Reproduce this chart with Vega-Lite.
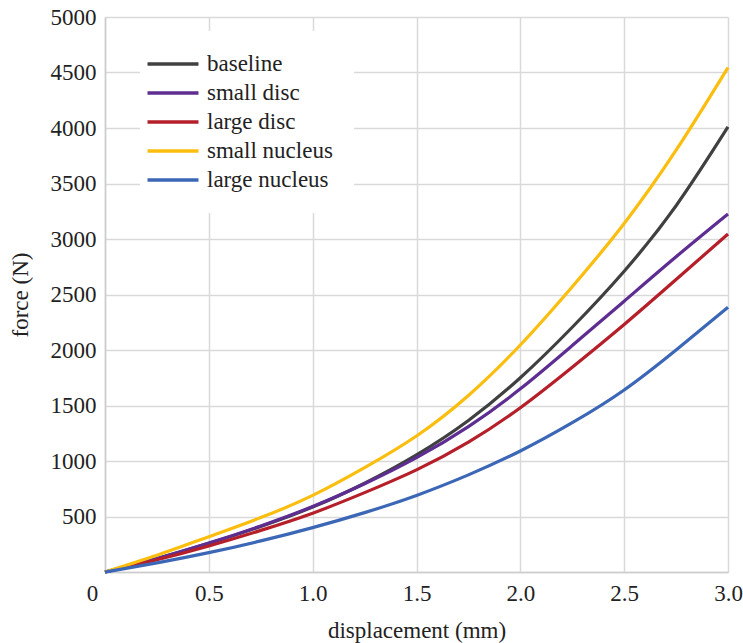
{
  "$schema": "https://vega.github.io/schema/vega-lite/v6.json",
  "width": 623,
  "height": 555,
  "padding": {"left": 105, "top": 17, "right": 15, "bottom": 71},
  "autosize": {"type": "none"},
  "background": "white",
  "config": {
    "font": "Liberation Serif, Times New Roman, serif",
    "view": {"stroke": null},
    "axis": {
      "labelFont": "Liberation Serif, Times New Roman, serif",
      "titleFont": "Liberation Serif, Times New Roman, serif",
      "labelFontSize": 23,
      "titleFontSize": 23,
      "labelColor": "#222222",
      "titleColor": "#222222",
      "titleFontWeight": "normal",
      "gridColor": "#d9d9d9",
      "gridWidth": 1.5,
      "domainColor": "#cccccc",
      "domainWidth": 1.5,
      "ticks": false
    }
  },
  "data": {
    "values": [
      {"d": 0, "f": 0, "s": "baseline"},
      {"d": 0.25, "f": 120, "s": "baseline"},
      {"d": 0.5, "f": 258, "s": "baseline"},
      {"d": 0.75, "f": 410, "s": "baseline"},
      {"d": 1.0, "f": 585, "s": "baseline"},
      {"d": 1.25, "f": 800, "s": "baseline"},
      {"d": 1.5, "f": 1055, "s": "baseline"},
      {"d": 1.75, "f": 1365, "s": "baseline"},
      {"d": 2.0, "f": 1750, "s": "baseline"},
      {"d": 2.25, "f": 2205, "s": "baseline"},
      {"d": 2.5, "f": 2710, "s": "baseline"},
      {"d": 2.75, "f": 3300, "s": "baseline"},
      {"d": 3.0, "f": 4010, "s": "baseline"},
      {"d": 0, "f": 0, "s": "small disc"},
      {"d": 0.25, "f": 122, "s": "small disc"},
      {"d": 0.5, "f": 260, "s": "small disc"},
      {"d": 0.75, "f": 415, "s": "small disc"},
      {"d": 1.0, "f": 590, "s": "small disc"},
      {"d": 1.25, "f": 795, "s": "small disc"},
      {"d": 1.5, "f": 1030, "s": "small disc"},
      {"d": 1.75, "f": 1310, "s": "small disc"},
      {"d": 2.0, "f": 1650, "s": "small disc"},
      {"d": 2.25, "f": 2040, "s": "small disc"},
      {"d": 2.5, "f": 2440, "s": "small disc"},
      {"d": 2.75, "f": 2840, "s": "small disc"},
      {"d": 3.0, "f": 3225, "s": "small disc"},
      {"d": 0, "f": 0, "s": "large disc"},
      {"d": 0.25, "f": 110, "s": "large disc"},
      {"d": 0.5, "f": 235, "s": "large disc"},
      {"d": 0.75, "f": 375, "s": "large disc"},
      {"d": 1.0, "f": 530, "s": "large disc"},
      {"d": 1.25, "f": 715, "s": "large disc"},
      {"d": 1.5, "f": 920, "s": "large disc"},
      {"d": 1.75, "f": 1170, "s": "large disc"},
      {"d": 2.0, "f": 1480, "s": "large disc"},
      {"d": 2.25, "f": 1845, "s": "large disc"},
      {"d": 2.5, "f": 2230, "s": "large disc"},
      {"d": 2.75, "f": 2635, "s": "large disc"},
      {"d": 3.0, "f": 3045, "s": "large disc"},
      {"d": 0, "f": 0, "s": "small nucleus"},
      {"d": 0.25, "f": 150, "s": "small nucleus"},
      {"d": 0.5, "f": 318, "s": "small nucleus"},
      {"d": 0.75, "f": 490, "s": "small nucleus"},
      {"d": 1.0, "f": 690, "s": "small nucleus"},
      {"d": 1.25, "f": 940, "s": "small nucleus"},
      {"d": 1.5, "f": 1225, "s": "small nucleus"},
      {"d": 1.75, "f": 1590, "s": "small nucleus"},
      {"d": 2.0, "f": 2045, "s": "small nucleus"},
      {"d": 2.25, "f": 2570, "s": "small nucleus"},
      {"d": 2.5, "f": 3140, "s": "small nucleus"},
      {"d": 2.75, "f": 3800, "s": "small nucleus"},
      {"d": 3.0, "f": 4545, "s": "small nucleus"},
      {"d": 0, "f": 0, "s": "large nucleus"},
      {"d": 0.25, "f": 82, "s": "large nucleus"},
      {"d": 0.5, "f": 174, "s": "large nucleus"},
      {"d": 0.75, "f": 280, "s": "large nucleus"},
      {"d": 1.0, "f": 400, "s": "large nucleus"},
      {"d": 1.25, "f": 535, "s": "large nucleus"},
      {"d": 1.5, "f": 690, "s": "large nucleus"},
      {"d": 1.75, "f": 875, "s": "large nucleus"},
      {"d": 2.0, "f": 1090, "s": "large nucleus"},
      {"d": 2.25, "f": 1345, "s": "large nucleus"},
      {"d": 2.5, "f": 1640, "s": "large nucleus"},
      {"d": 2.75, "f": 2000, "s": "large nucleus"},
      {"d": 3.0, "f": 2385, "s": "large nucleus"}
    ]
  },
  "mark": {"type": "line", "strokeWidth": 3.2, "interpolate": "natural"},
  "encoding": {
    "x": {
      "field": "d",
      "type": "quantitative",
      "scale": {"domain": [0, 3]},
      "axis": {
        "title": "displacement (mm)",
        "values": [0, 0.5, 1, 1.5, 2, 2.5, 3],
        "labelExpr": "datum.value == 0 ? '0' : format(datum.value, '.1f')",
        "labelFlush": false,
        "labelOffset": {"condition": {"test": "datum.value == 0", "value": -13}, "value": 0},
        "labelPadding": 10,
        "titlePadding": 14
      }
    },
    "y": {
      "field": "f",
      "type": "quantitative",
      "scale": {"domain": [0, 5000]},
      "axis": {
        "title": "force (N)",
        "values": [0, 500, 1000, 1500, 2000, 2500, 3000, 3500, 4000, 4500, 5000],
        "labelExpr": "datum.value == 0 ? '' : format(datum.value, 'd')",
        "labelFlush": false,
        "labelPadding": 9,
        "titlePadding": 18
      }
    },
    "color": {
      "field": "s",
      "type": "nominal",
      "scale": {
        "domain": ["baseline", "small disc", "large disc", "small nucleus", "large nucleus"],
        "range": ["#404040", "#5e2d91", "#b51f2a", "#fbbe0e", "#3b67b6"]
      },
      "legend": {
        "title": null,
        "orient": "none",
        "legendX": 35,
        "legendY": 14,
        "padding": 21,
        "fillColor": "white",
        "symbolType": "M-2.5,0H2.5",
        "symbolSize": 416,
        "symbolStrokeWidth": 3.5,
        "labelFont": "Liberation Serif, Times New Roman, serif",
        "labelFontSize": 23,
        "labelColor": "#222222",
        "labelOffset": 22,
        "rowPadding": 5,
        "labelLimit": 300
      }
    }
  }
}
